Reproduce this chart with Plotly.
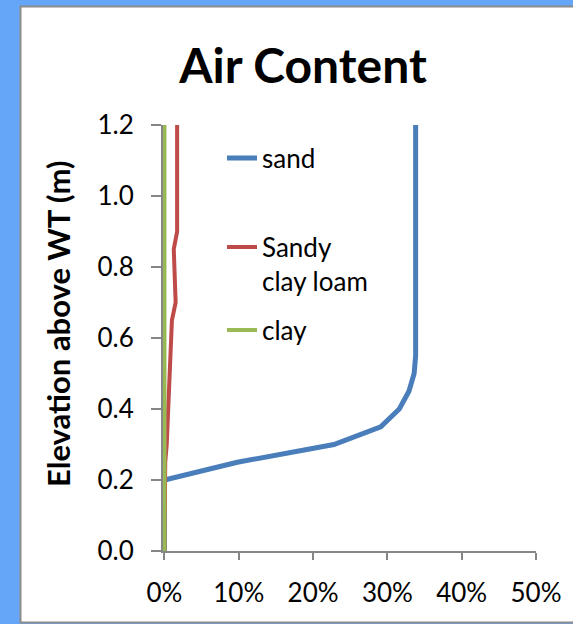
import plotly.graph_objects as go

# ---- data ----
elevation = [0.0, 0.05, 0.1, 0.15, 0.2, 0.25, 0.3, 0.35, 0.4, 0.45, 0.5, 0.55,
             0.6, 0.65, 0.7, 0.75, 0.8, 0.85, 0.9, 0.95, 1.0, 1.05, 1.1, 1.15, 1.2]
sand = [0.0, 0.0, 0.0, 0.0, 0.0, 0.098, 0.228, 0.291, 0.316, 0.329, 0.336, 0.338,
        0.338, 0.338, 0.338, 0.338, 0.338, 0.338, 0.338, 0.338, 0.338, 0.338, 0.338, 0.338, 0.338]
sandy_clay_loam = [0.0, 0.0, 0.0, 0.0, 0.0, 0.001, 0.003, 0.004, 0.005, 0.006, 0.007, 0.009,
                   0.010, 0.010, 0.015, 0.014, 0.013, 0.0125, 0.017, 0.017, 0.017, 0.017, 0.017, 0.017, 0.017]
clay = [0.0] * len(elevation)

x_ticks = [0, 0.1, 0.2, 0.3, 0.4, 0.5]
y_ticks = [0.0, 0.2, 0.4, 0.6, 0.8, 1.0, 1.2]

FONT = "Lato"
W, H = 573, 624
L, R, T, B = 163, 37, 125, 73
pw, ph = W - L - R, H - T - B

def px(xp):
    return (xp - L) / pw

def py(yp):
    return (H - B - yp) / ph

fig = go.Figure()
fig.add_trace(go.Scatter(x=sand, y=elevation, mode="lines", name="sand", showlegend=True,
                         line=dict(color="#4A7EBB", width=5), legend="legend"))
fig.add_trace(go.Scatter(x=sandy_clay_loam, y=elevation, mode="lines", name="Sandy<br>clay loam",
                         showlegend=True, line=dict(color="#BE4B48", width=4), legend="legend2"))
fig.add_trace(go.Scatter(x=clay, y=elevation, mode="lines", name="clay", showlegend=True,
                         line=dict(color="#98B954", width=4), legend="legend3"))

leg_common = dict(font=dict(family=FONT, size=26, color="#000000"), bgcolor="rgba(0,0,0,0)",
                  xanchor="left", yanchor="middle", x=px(222), visible=True)

fig.update_layout(
    width=W, height=H,
    showlegend=True,
    margin=dict(l=L, r=R, t=T, b=B),
    paper_bgcolor="#66A6F8",
    plot_bgcolor="#FFFFFF",
    font=dict(family=FONT, color="#000000"),
    title=dict(text="<b>Air Content</b>", font=dict(family=FONT, size=48, color="#000000"),
               xref="container", x=303 / W, xanchor="center",
               yref="container", y=1 - 66 / H, yanchor="middle"),
    legend=dict(**leg_common, y=py(158)),
    legend2=dict(**leg_common, y=py(264), valign="top"),
    legend3=dict(**leg_common, y=py(330)),
    xaxis=dict(range=[-0.002, 0.5], tickvals=x_ticks, tickformat=".0%",
               showgrid=False, zeroline=False, showline=True, linecolor="#868686", linewidth=2,
               ticks="outside", ticklen=7, tickwidth=2, tickcolor="#868686",
               tickfont=dict(family=FONT, size=26), ticklabelstandoff=11, layer="below traces"),
    yaxis=dict(range=[0, 1.2], tickvals=y_ticks, tickformat=".1f",
               showgrid=False, zeroline=False, showline=True, linecolor="#868686", linewidth=2,
               ticks="outside", ticklen=10, tickwidth=2, tickcolor="#868686",
               tickfont=dict(family=FONT, size=26), ticklabelstandoff=12, layer="below traces"),
    shapes=[dict(type="rect", xref="paper", yref="paper", layer="below",
                 x0=px(20.5), x1=px(600), y0=py(622.5), y1=py(6.5),
                 fillcolor="#FFFFFF", line=dict(color="#8C8C8C", width=2))],
    annotations=[dict(text="<b>Elevation above WT (m)</b>", textangle=-90,
                      xref="paper", yref="paper", x=px(58), y=py(324),
                      xanchor="center", yanchor="middle", showarrow=False,
                      font=dict(family=FONT, size=31, color="#000000"))],
)

fig.write_html("out.html", config={"displayModeBar": False},
               post_script="document.body.style.margin='0';document.body.style.padding='0';")
